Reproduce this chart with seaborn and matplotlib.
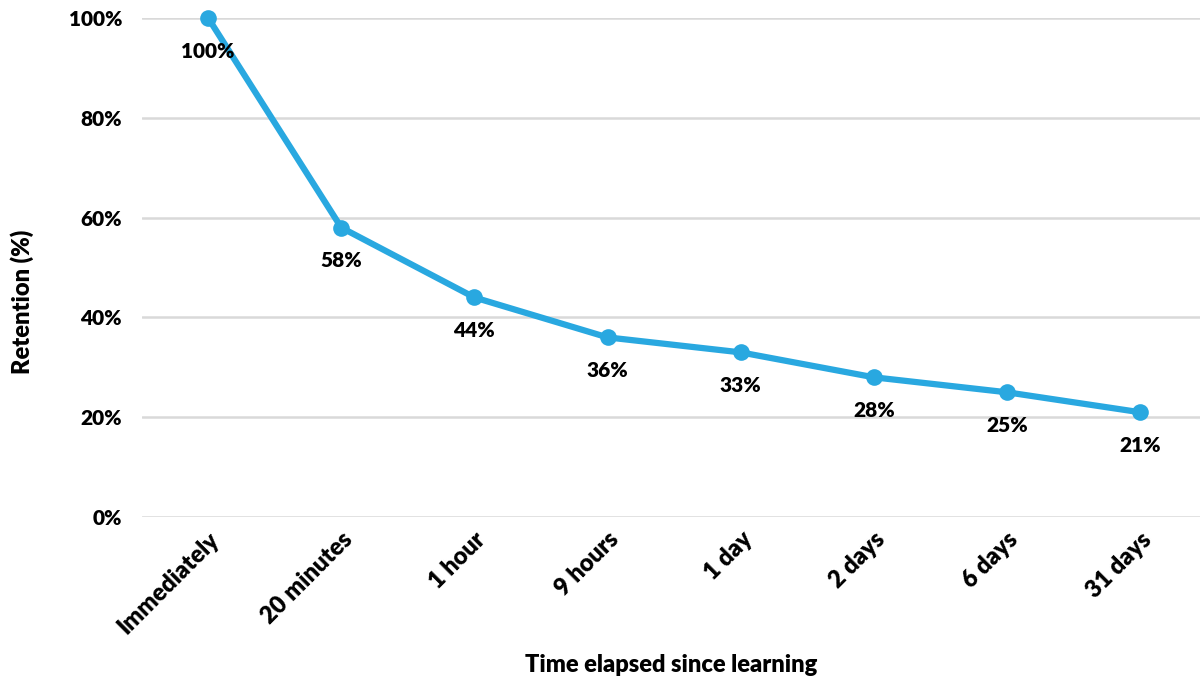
import matplotlib
matplotlib.use("Agg")
import matplotlib.pyplot as plt
import seaborn as sns
import pandas as pd

TIMES = ["Immediately", "20 minutes", "1 hour", "9 hours", "1 day", "2 days", "6 days", "31 days"]
RETENTION = [100, 58, 44, 36, 33, 28, 25, 21]
Y_TICKS = [0, 20, 40, 60, 80, 100]

LINE_COLOR = "#29A8E0"
FS = 15
FS_BIG = 17
FW = "heavy"

sns.set_theme(style="white")
plt.rcParams["font.family"] = ["Lato", "DejaVu Sans"]
plt.rcParams["text.color"] = "black"
plt.rcParams["axes.labelcolor"] = "black"
plt.rcParams["xtick.color"] = "black"
plt.rcParams["ytick.color"] = "black"

df = pd.DataFrame({"time": TIMES, "retention": RETENTION})
df["pos"] = range(len(TIMES))

fig = plt.figure(figsize=(12, 6.83), dpi=100)
ax = fig.add_axes([0.118, 0.243, 0.882, 0.7306])

sns.lineplot(data=df, x="pos", y="retention", ax=ax, color=LINE_COLOR,
             linewidth=4.5, marker="o", markersize=12, markeredgewidth=0,
             clip_on=False, zorder=3)

# data labels below each point
for _, row in df.iterrows():
    ax.annotate(f"{row['retention']}%", (row["pos"], row["retention"]),
                xytext=(0, -24), textcoords="offset points",
                ha="center", va="center", fontsize=FS, fontweight=FW,
                color="black")

ax.set_xlim(-0.5, 7.45)
ax.set_ylim(0, 100)
ax.set_yticks(Y_TICKS)
ax.set_yticklabels([f"{v}%" for v in Y_TICKS], fontsize=FS, fontweight=FW)
ax.set_xticks(df["pos"])
ax.set_xticklabels(TIMES, rotation=45, ha="right", rotation_mode="anchor",
                   fontsize=FS_BIG, fontweight=FW)
ax.tick_params(axis="y", length=0, pad=14)
ax.tick_params(axis="x", length=0, pad=8)

ax.grid(axis="y", color="#D9D9D9", linewidth=1.8)
ax.grid(axis="x", visible=False)
for s in ax.spines.values():
    s.set_visible(False)

ax.set_xlabel("Time elapsed since learning", fontsize=FS_BIG, fontweight=FW)
ax.set_ylabel("Retention (%)", fontsize=FS_BIG, fontweight=FW)
ax.xaxis.label.set_va("center")
ax.yaxis.label.set_va("center")
ax.xaxis.set_label_coords(0.5, -0.2965)
ax.yaxis.set_label_coords(-0.113, 0.431)

fig.savefig("out.png", dpi=100)
